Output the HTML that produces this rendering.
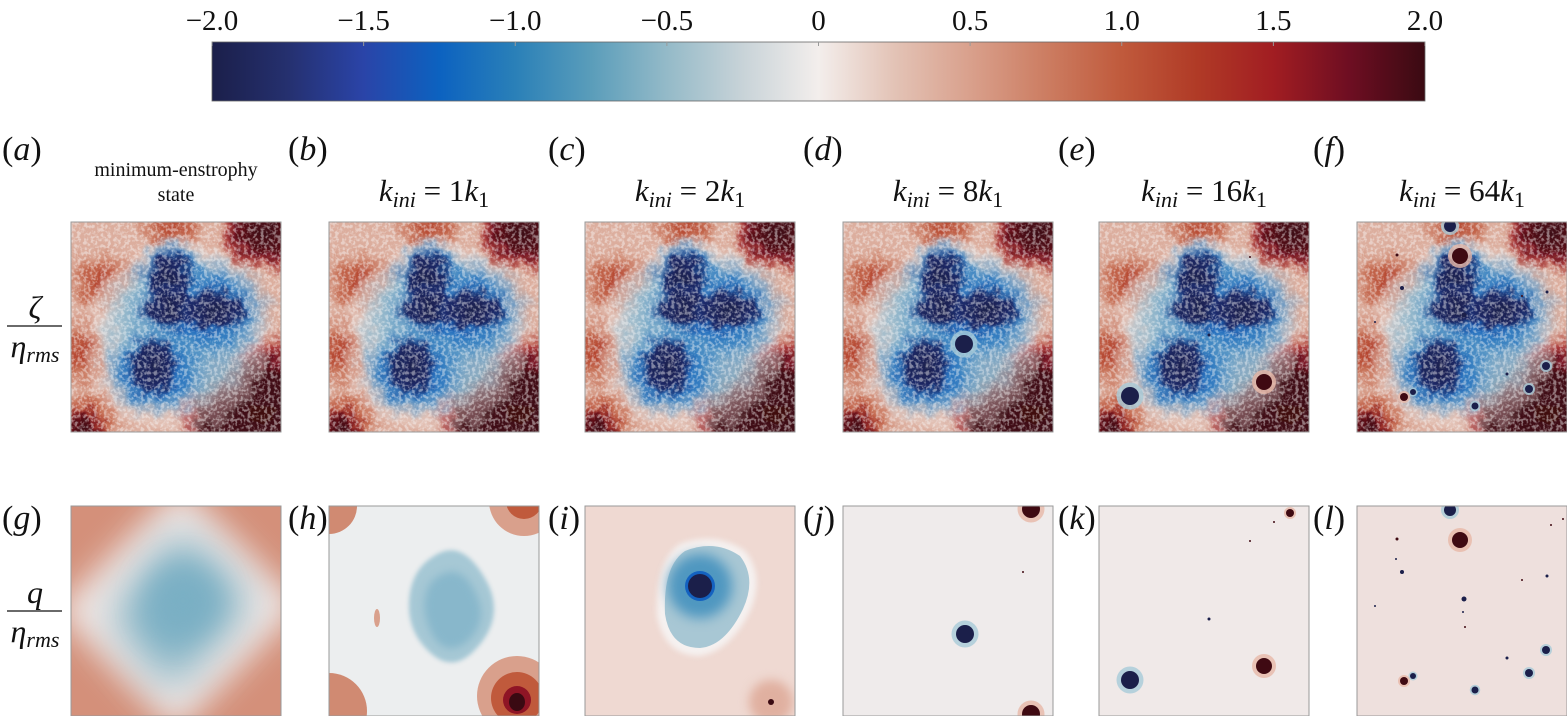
<!DOCTYPE html>
<html><head><meta charset="utf-8">
<style>
html,body{margin:0;padding:0;background:#fff;width:1567px;height:716px;overflow:hidden}
svg{display:block}
text{font-family:"Liberation Serif",serif;fill:#111}
</style></head>
<body>
<svg id="fig" width="1567" height="716" viewBox="0 0 1567 716" xmlns="http://www.w3.org/2000/svg">
<defs>
  <linearGradient id="cmap" x1="0" x2="1" y1="0" y2="0">
    <stop offset="0" stop-color="#1b1f4a"/>
    <stop offset="0.0625" stop-color="#25306f"/>
    <stop offset="0.125" stop-color="#2a44a8"/>
    <stop offset="0.1875" stop-color="#0c62c0"/>
    <stop offset="0.25" stop-color="#2a80b8"/>
    <stop offset="0.3125" stop-color="#5a9dba"/>
    <stop offset="0.375" stop-color="#94bac8"/>
    <stop offset="0.4375" stop-color="#c8d3d8"/>
    <stop offset="0.5" stop-color="#f3eeec"/>
    <stop offset="0.5625" stop-color="#e3c3b6"/>
    <stop offset="0.625" stop-color="#d9a08c"/>
    <stop offset="0.6875" stop-color="#cc7d62"/>
    <stop offset="0.75" stop-color="#c05a3c"/>
    <stop offset="0.8125" stop-color="#b03a26"/>
    <stop offset="0.875" stop-color="#a11d22"/>
    <stop offset="0.9375" stop-color="#6e0e22"/>
    <stop offset="1" stop-color="#3a0a12"/>
  </linearGradient>
  <filter id="rough" x="-10%" y="-10%" width="120%" height="120%">
    <feGaussianBlur in="SourceGraphic" stdDeviation="3" result="b"/>
    <feTurbulence type="fractalNoise" baseFrequency="0.07" numOctaves="3" seed="4" result="n"/>
    <feDisplacementMap in="b" in2="n" scale="20" xChannelSelector="R" yChannelSelector="G"/>
  </filter>
  <filter id="speck" x="0" y="0" width="100%" height="100%">
    <feTurbulence type="fractalNoise" baseFrequency="0.3" numOctaves="2" seed="9" result="n"/>
    <feColorMatrix in="n" type="matrix" values="0 0 0 0 0.95  0 0 0 0 0.94  0 0 0 0 0.94  0 0 0 -4.5 2.5"/>
  </filter>
  <radialGradient id="rdark"><stop offset="0" stop-color="#3a0a12"/><stop offset="0.55" stop-color="#5a0c18"/><stop offset="0.85" stop-color="#a11d22" stop-opacity="0.8"/><stop offset="1" stop-color="#c05a3c" stop-opacity="0"/></radialGradient>
  <radialGradient id="rmid"><stop offset="0" stop-color="#b03a26"/><stop offset="0.6" stop-color="#c05a3c" stop-opacity="0.7"/><stop offset="1" stop-color="#cc7d62" stop-opacity="0"/></radialGradient>
  <radialGradient id="bnavy"><stop offset="0" stop-color="#1b1f4a"/><stop offset="0.75" stop-color="#1e2a6a"/><stop offset="1" stop-color="#1550b0" stop-opacity="0"/></radialGradient>
  <radialGradient id="bmid"><stop offset="0" stop-color="#1258c0"/><stop offset="0.6" stop-color="#2f7cc0" stop-opacity="0.9"/><stop offset="1" stop-color="#7fb0cc" stop-opacity="0"/></radialGradient>
  <radialGradient id="blight"><stop offset="0" stop-color="#4f92c4"/><stop offset="0.7" stop-color="#8cb9d0" stop-opacity="0.85"/><stop offset="1" stop-color="#dfe6ea" stop-opacity="0"/></radialGradient>
  <g id="field">
    <rect x="0" y="0" width="210" height="210" fill="#dcae9e"/>
    <g filter="url(#rough)">
      <ellipse cx="30" cy="60" rx="40" ry="35" fill="url(#rmid)"/>
      <ellipse cx="10" cy="130" rx="35" ry="40" fill="url(#rmid)"/>
      <ellipse cx="100" cy="5" rx="40" ry="20" fill="url(#rmid)"/>
      <ellipse cx="15" cy="200" rx="40" ry="35" fill="url(#rmid)"/>
      <ellipse cx="12" cy="205" rx="22" ry="20" fill="url(#rdark)"/>
      <ellipse cx="195" cy="8" rx="50" ry="42" fill="url(#rdark)"/>
      <ellipse cx="190" cy="190" rx="90" ry="80" fill="url(#rdark)"/>
      <ellipse cx="182" cy="192" rx="60" ry="52" fill="#3f0a12" opacity="0.85"/>
      <ellipse cx="60" cy="50" rx="20" ry="16" fill="url(#rmid)"/>
      <ellipse cx="105" cy="115" rx="90" ry="95" fill="#f3eeec" opacity="0.3"/>
      <ellipse cx="108" cy="108" rx="88" ry="88" fill="url(#blight)"/>
      <ellipse cx="130" cy="88" rx="75" ry="58" fill="url(#bmid)"/>
      <ellipse cx="85" cy="150" rx="58" ry="48" fill="url(#bmid)"/>
      <ellipse cx="100" cy="55" rx="38" ry="42" fill="url(#bmid)"/>
      <ellipse cx="98" cy="58" rx="26" ry="32" fill="url(#bnavy)"/>
      <ellipse cx="100" cy="85" rx="32" ry="24" fill="url(#bnavy)"/>
      <ellipse cx="145" cy="88" rx="36" ry="24" fill="url(#bnavy)"/>
      <ellipse cx="82" cy="145" rx="27" ry="32" fill="url(#bnavy)"/>
    </g>
    <rect x="0" y="0" width="210" height="210" filter="url(#speck)" opacity="0.45"/>
  </g>
  <clipPath id="sq"><rect x="0" y="0" width="210" height="210"/></clipPath>
</defs>
<g id="cbar"></g>
<g id="panels"></g>
</svg>
<script>
const NS="http://www.w3.org/2000/svg";
const fig=document.getElementById('fig');
function el(tag,attrs,parent,txt){const e=document.createElementNS(NS,tag);for(const k in attrs)e.setAttribute(k,attrs[k]);if(txt!==undefined)e.textContent=txt;(parent||fig).appendChild(e);return e;}

// ---- colorbar data ----
const cbTickValues=[-2,-1.5,-1,-0.5,0,0.5,1,1.5,2];
const cbTickLabels=["\u22122.0","\u22121.5","\u22121.0","\u22120.5","0","0.5","1.0","1.5","2.0"];
const cbMin=-2, cbMax=2;
// ---- panel data ----
const panelLetters=["a","b","c","d","e","f","g","h","i","j","k","l"];
const panelX=[71,329,585,843,1099,1357];
// vortices: [x, y, radius, sign(+1 red, -1 blue)] in panel-local units (0..210)
const vortD=[[121,122,9,-1]];
const vortE=[[31,174,9,-1],[165,160,8,1],[151,35,1,1],[110,113,1.5,-1]];
const vortF=[[93,4,6,-1],[103,34,8,1],[40,33,1.5,1],[45,66,2,-1],[107,93,2.5,-1],[189,144,4,-1],[172,167,4,-1],[56,170,3,-1],[47,175,4,1],[118,184,3.5,-1],[150,152,1.5,-1],[190,70,1.5,-1],[18,100,1,-1],[165,74,1,1]];
const vortJ=[[122,128,9,-1],[188,3,9,1],[188,208,9,1],[180,66,1,1]];
const vortK=[[31,174,9,-1],[165,160,8,1],[191,7,4,1],[175,16,1,1],[151,35,1,1],[110,113,1.5,-1]];
const vortL=[[93,4,6,-1],[103,34,8,1],[40,33,1.5,1],[39,53,1,-1],[45,66,2,-1],[165,74,1,1],[190,70,1.5,-1],[107,93,2.5,-1],[18,100,1,-1],[106,106,1,-1],[108,121,1,1],[189,144,4,-1],[150,152,1.5,-1],[172,167,4,-1],[56,170,3,-1],[47,175,4,1],[118,184,3.5,-1],[206,13,1,1],[194,19,1,1]];

// colorbar
const cbX0=212,cbX1=1425,cbY=42,cbH=59;
function cbScale(v){return cbX0+(v-cbMin)/(cbMax-cbMin)*(cbX1-cbX0);}
const cb=document.getElementById('cbar');
const cbr=el('rect',{x:cbX0,y:cbY,width:cbX1-cbX0,height:cbH,fill:'url(#cmap)',stroke:'#666','stroke-width':0.8},cb);


cbTickValues.forEach((v,i)=>{
  const x=cbScale(v);
  el('line',{x1:x,x2:x,y1:cbY,y2:cbY+4,stroke:'#999','stroke-width':1},cb);
  const t=el('text',{x:x,y:30,'font-size':29,'text-anchor':'middle'},cb,cbTickLabels[i]);
  
  
});

const P=document.getElementById('panels');
function vortices(g,list){
  list.forEach(v=>{
    const [x,y,r,s]=v;
    if(r>=3){el('circle',{cx:x,cy:y,r:r*1.5,fill:s>0?'#e7b8a8':'#a8cbd8',opacity:0.8},g);}
    const c=el('circle',{cx:x,cy:y,r:r,fill:s>0?'#3f0a12':'#1b1f4a'},g);
    
    
  });
}
function panelG(i,x,y){
  const g=el('g',{transform:`translate(${x},${y})`},P);
  
  
  const inner=el('g',{'clip-path':'url(#sq)'},g);
  return [g,inner];
}
// letters
panelLetters.forEach((L,i)=>{
  const col=i%6,row=Math.floor(i/6);
  const lx=[2,288,548,803,1058,1313][col];
  const ly=row===0?160:529;
  const t=el('text',{x:lx,y:ly,'font-size':34},null);
  t.innerHTML='(<tspan font-style="italic">'+L+'</tspan>)';
  
  
});
// titles
const t0=el('text',{x:176,y:176,'font-size':20,'text-anchor':'middle'},null,'minimum-enstrophy');


const t1=el('text',{x:176,y:201,'font-size':20,'text-anchor':'middle'},null,'state');


const kvals=["1","2","8","16","64"];
kvals.forEach((k,i)=>{
  const cx=panelX[i+1]+105;
  const t=el('text',{x:cx,y:201,'font-size':31,'text-anchor':'middle'},null);
  t.innerHTML='<tspan font-style="italic">k</tspan><tspan font-style="italic" font-size="22" dy="6">ini</tspan><tspan dy="-6"> = '+k+'</tspan><tspan font-style="italic">k</tspan><tspan font-size="22" dy="6">1</tspan>';
  
  
});
// row labels
function frac(y,top,name){
  const g=el('g',{},null);
  
  
  el('text',{x:35,y:y-8,'font-size':32,'text-anchor':'middle','font-style':'italic'},g,top);
  el('line',{x1:7,x2:62,y1:y,y2:y,stroke:'#111','stroke-width':1.3},g);
  const b=el('text',{x:35,y:y+31,'font-size':32,'text-anchor':'middle'},g);
  b.innerHTML='<tspan font-style="italic">η</tspan><tspan font-style="italic" font-size="22" dy="5">rms</tspan>';
}
frac(326,'ζ','row-label-vorticity');
frac(611,'q','row-label-pv');

// top row
const topVort=[[],[],[],vortD,vortE,vortF];
panelX.forEach((x,i)=>{
  const [g,inner]=panelG(i,x,222);
  el('use',{href:'#field'},inner);
  vortices(inner,topVort[i]);
  el('rect',{x:0,y:0,width:210,height:210,fill:'none',stroke:'#999','stroke-width':1},g);
});
// bottom row
const BY=506;
function bottom(i,draw){
  const [g,inner]=panelG(i+6,panelX[i],BY);
  draw(inner);
  el('rect',{x:0,y:0,width:210,height:210,fill:'none',stroke:'#999','stroke-width':1},g);
}
bottom(0,g=>{
  el('rect',{x:0,y:0,width:210,height:210,fill:'#d4907a'},g);
  el('polygon',{points:'110,-20 230,100 105,225 -15,105',fill:'#f0e8e6',style:'filter:blur(16px)'},g);
  el('polygon',{points:'110,25 180,95 100,185 40,110',fill:'#7fb2c5',style:'filter:blur(22px)'},g);
  el('circle',{cx:112,cy:95,r:35,fill:'#7aafc4',style:'filter:blur(15px)'},g);
});
bottom(1,g=>{
  el('rect',{x:0,y:0,width:210,height:210,fill:'#eceeef'},g);
  el('path',{d:'M105,50 Q135,30 160,80 Q175,115 145,145 Q125,165 105,150 Q80,130 80,100 Q80,65 105,50Z',fill:'#a6c8d5',style:'filter:blur(2px)'},g);
  el('path',{d:'M110,70 Q135,55 150,95 Q158,120 135,138 Q115,150 103,128 Q92,105 97,88 Q100,75 110,70Z',fill:'#88b7cb',style:'filter:blur(4px)'},g);
  el('circle',{cx:0,cy:0,r:28,fill:'#d08a72'},g);
  el('circle',{cx:195,cy:-5,r:35,fill:'#d9a08c'},g);
  el('circle',{cx:195,cy:-5,r:18,fill:'#c05a3c'},g);
  el('circle',{cx:0,cy:205,r:38,fill:'#d08a72'},g);
  el('circle',{cx:188,cy:190,r:40,fill:'#d9a08c'},g);
  el('circle',{cx:188,cy:192,r:26,fill:'#c05a3c'},g);
  el('circle',{cx:188,cy:194,r:14,fill:'#8f1525'},g);
  el('ellipse',{cx:188,cy:196,rx:8,ry:9,fill:'#3a0a12'},g);
  el('ellipse',{cx:48,cy:112,rx:3,ry:9,fill:'#d9a08c'},g);
});
bottom(2,g=>{
  el('rect',{x:0,y:0,width:210,height:210,fill:'#efd9d2'},g);
  el('path',{d:'M95,38 Q130,25 160,45 Q180,70 165,105 Q145,145 115,150 Q80,150 72,110 Q70,55 95,38Z',fill:'#f5f1f0',style:'filter:blur(3px)'},g);
  el('path',{d:'M100,45 Q130,33 155,50 Q172,72 158,103 Q140,140 115,142 Q85,142 80,108 Q78,60 100,45Z',fill:'#a8c7d4'},g);
  el('circle',{cx:115,cy:80,r:32,fill:'#4f97c0',style:'filter:blur(6px)'},g);
  el('circle',{cx:115,cy:80,r:15,fill:'#1462c0'},g);
  el('circle',{cx:115,cy:80,r:12,fill:'#1b1f4a'},g);
  el('circle',{cx:186,cy:196,r:22,fill:'#e0b0a0',style:'filter:blur(5px)'},g);
  el('circle',{cx:186,cy:196,r:3,fill:'#3a0a12'},g);
});
bottom(3,g=>{el('rect',{x:0,y:0,width:210,height:210,fill:'#efebeb'},g);vortices(g,vortJ);});
bottom(4,g=>{el('rect',{x:0,y:0,width:210,height:210,fill:'#f0e9e8'},g);vortices(g,vortK);});
bottom(5,g=>{el('rect',{x:0,y:0,width:210,height:210,fill:'#eee0dd'},g);vortices(g,vortL);});
</script>
</body></html>
